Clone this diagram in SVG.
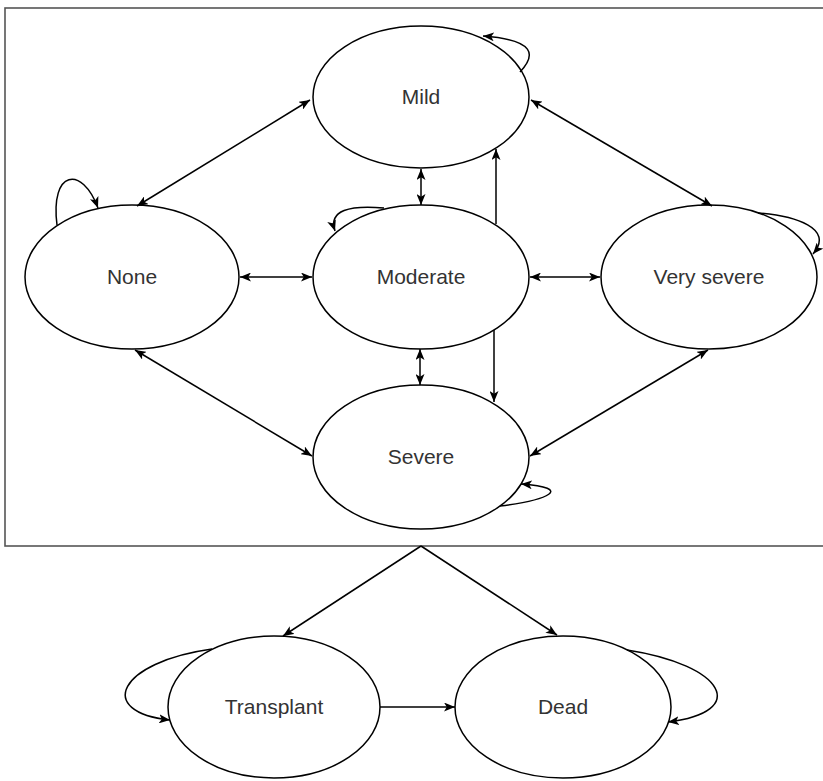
<svg xmlns="http://www.w3.org/2000/svg" width="823" height="781" viewBox="0 0 823 781">
<style>
.node{fill:#fff;stroke:#000;stroke-width:1.5}
.lbl{font-family:"Liberation Sans",Arial,sans-serif;font-size:21px;fill:#333;text-anchor:middle}
.edge{fill:none;stroke:#000;stroke-width:1.5}
.box{fill:none;stroke:#555;stroke-width:1.6}
</style>
<defs>
<marker id="arr" viewBox="0 0 11 9" refX="11" refY="4.5" markerWidth="11" markerHeight="9" markerUnits="userSpaceOnUse" orient="auto-start-reverse">
<path d="M0,0 L11,4.5 L0,9 L2.8,4.5 Z" fill="#000"/>
</marker>
</defs>
<rect id="container" class="box" x="5" y="8" width="840" height="538"/>
<g id="mild"><ellipse class="node" cx="421" cy="97" rx="108" ry="71"/><text class="lbl" x="421" y="104">Mild</text></g>
<g id="none"><ellipse class="node" cx="132" cy="277" rx="107" ry="72"/><text class="lbl" x="132" y="284">None</text></g>
<g id="moderate"><ellipse class="node" cx="421" cy="277" rx="108" ry="72"/><text class="lbl" x="421" y="284">Moderate</text></g>
<g id="verysevere"><ellipse class="node" cx="709" cy="277" rx="108" ry="72"/><text class="lbl" x="709" y="284">Very severe</text></g>
<g id="severe"><ellipse class="node" cx="421" cy="457" rx="108" ry="72"/><text class="lbl" x="421" y="464">Severe</text></g>
<g id="transplant"><ellipse class="node" cx="274" cy="707" rx="106" ry="71"/><text class="lbl" x="274" y="714">Transplant</text></g>
<g id="dead"><ellipse class="node" cx="563" cy="707" rx="108" ry="71"/><text class="lbl" x="563" y="714">Dead</text></g>
<g id="connectors">
<path class="edge" d="M137,206 L310,100" marker-start="url(#arr)" marker-end="url(#arr)"/>
<path class="edge" d="M531,100 L712,206" marker-start="url(#arr)" marker-end="url(#arr)"/>
<path class="edge" d="M240,277 L312,277" marker-start="url(#arr)" marker-end="url(#arr)"/>
<path class="edge" d="M530,277 L600,277" marker-start="url(#arr)" marker-end="url(#arr)"/>
<path class="edge" d="M135,350 L312,456" marker-start="url(#arr)" marker-end="url(#arr)"/>
<path class="edge" d="M708,350 L530,456" marker-start="url(#arr)" marker-end="url(#arr)"/>
<path class="edge" d="M421,169 L421,205" marker-start="url(#arr)" marker-end="url(#arr)"/>
<path class="edge" d="M420,349 L420,385" marker-start="url(#arr)" marker-end="url(#arr)"/>
<path class="edge" d="M496,224 L496,149" marker-end="url(#arr)"/>
<path class="edge" d="M494,330 L494,402" marker-end="url(#arr)"/>
<path class="edge" d="M421,546 L283,636" marker-end="url(#arr)"/>
<path class="edge" d="M421,546 L557,635" marker-end="url(#arr)"/>
<path class="edge" d="M380,707 L455,707" marker-end="url(#arr)"/>
<path class="edge" d="M520,72 C536,55 536,40 483,36" marker-end="url(#arr)"/>
<path class="edge" d="M57,225 C50,170 82,165 98,208" marker-end="url(#arr)"/>
<path class="edge" d="M384,208 C350,205 328,210 335,231" marker-end="url(#arr)"/>
<path class="edge" d="M758,213 C795,216 835,228 813,254" marker-end="url(#arr)"/>
<path class="edge" d="M500,506 C548,500 575,488 521,484" marker-end="url(#arr)"/>
<path class="edge" d="M212,649 C118,662 95,712 170,720" marker-end="url(#arr)"/>
<path class="edge" d="M627,650 C725,665 750,712 668,722" marker-end="url(#arr)"/>
</g>
</svg>
